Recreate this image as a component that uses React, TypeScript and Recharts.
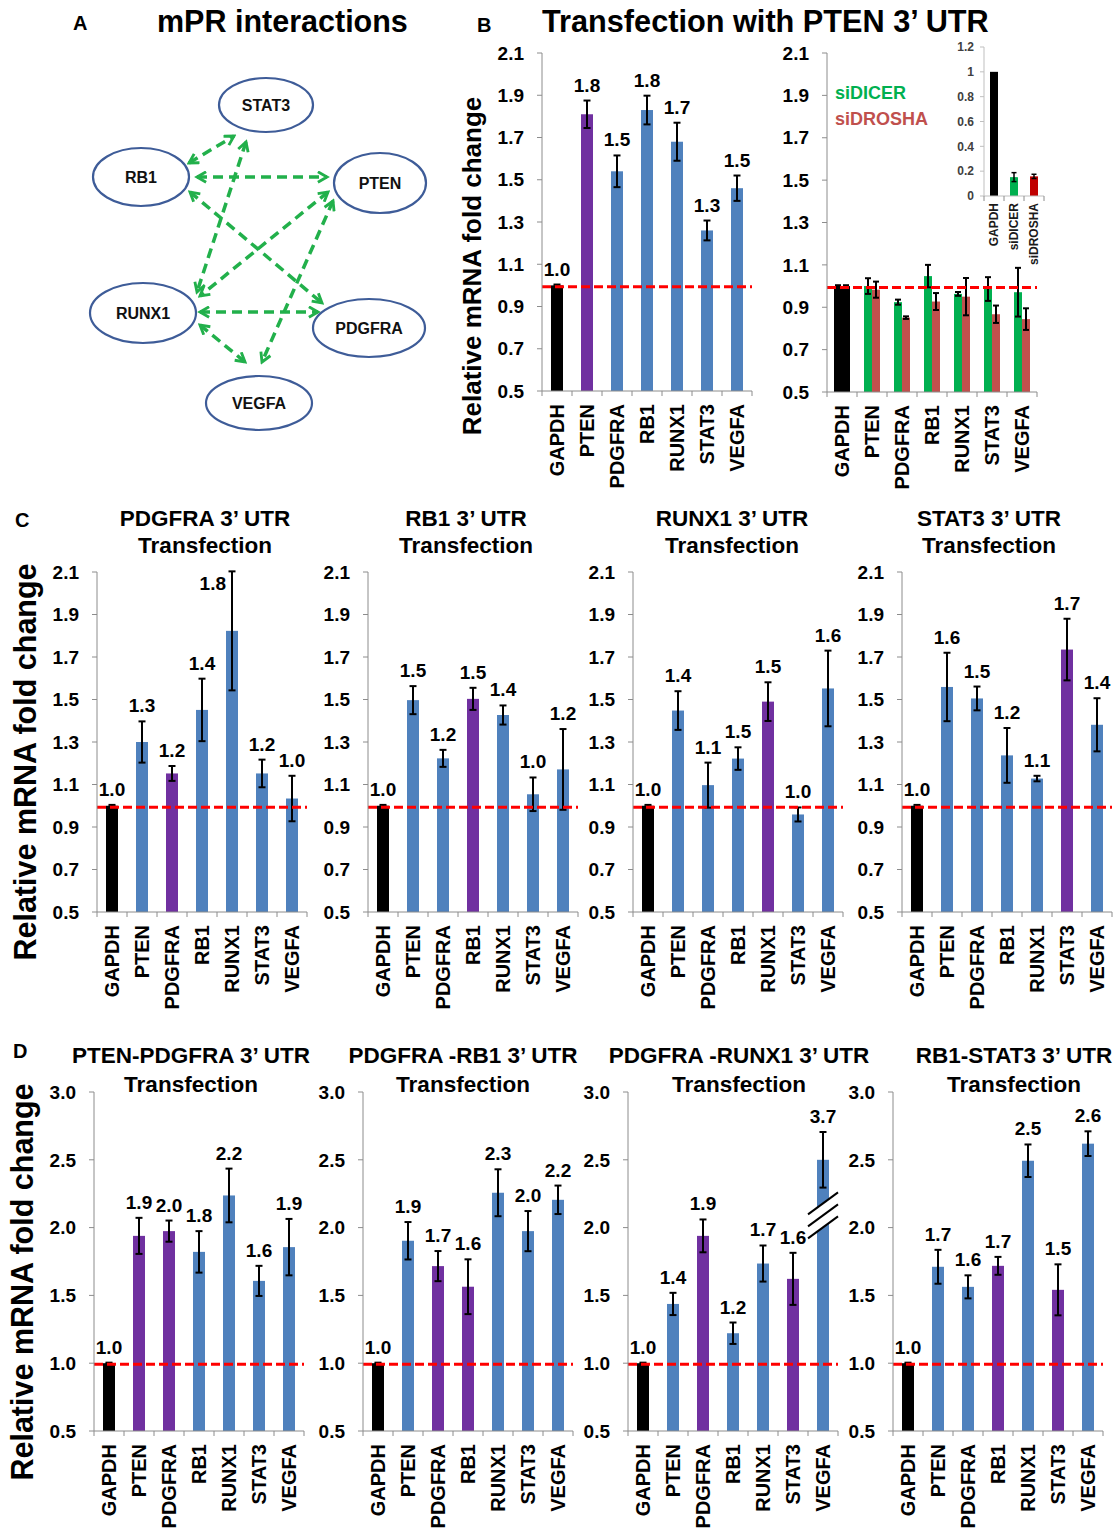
import React from 'react'
import { BarChart, Bar, XAxis, YAxis, ErrorBar, ReferenceLine, Cell } from 'recharts'

const GENES = ['GAPDH', 'PTEN', 'PDGFRA', 'RB1', 'RUNX1', 'STAT3', 'VEGFA']

// B: transfection with PTEN 3' UTR
const PTEN_VALUES = [1.0, 1.81, 1.54, 1.83, 1.68, 1.26, 1.46]
const PTEN_ERRORS = [0.004, 0.065, 0.075, 0.068, 0.09, 0.047, 0.06]
const PTEN_LABELS = ['1.0', '1.8', '1.5', '1.8', '1.7', '1.3', '1.5']

// B: PTEN 3' UTR with siDICER / siDROSHA
const SIDICER_VALUES = [1.0, 1.0, 0.924, 1.047, 0.963, 0.986, 0.971]
const SIDICER_ERRORS = [0.004, 0.037, 0.012, 0.053, 0.009, 0.056, 0.115]
const SIDROSHA_VALUES = [1.0, 0.983, 0.851, 0.927, 0.95, 0.867, 0.844]
const SIDROSHA_ERRORS = [0.004, 0.038, 0.006, 0.04, 0.088, 0.041, 0.051]

// B inset: knockdown efficiency
const INSET_CATEGORIES = ['GAPDH', 'siDICER', 'siDROSHA']
const INSET_VALUES = [1.0, 0.152, 0.158]
const INSET_ERRORS = [0, 0.036, 0.017]
const INSET_TICKS = [0, 0.2, 0.4, 0.6, 0.8, 1, 1.2]

// C: single 3' UTR transfections
const C_PDGFRA_VALUES = [1.0, 1.3, 1.152, 1.451, 1.823, 1.152, 1.034]
const C_PDGFRA_ERRORS = [0.004, 0.097, 0.035, 0.147, 0.28, 0.065, 0.107]
const C_PDGFRA_LABELS = ['1.0', '1.3', '1.2', '1.4', '1.8', '1.2', '1.0']

const C_RB1_VALUES = [1.0, 1.497, 1.223, 1.503, 1.427, 1.054, 1.171]
const C_RB1_ERRORS = [0.004, 0.066, 0.04, 0.052, 0.045, 0.079, 0.19]
const C_RB1_LABELS = ['1.0', '1.5', '1.2', '1.5', '1.4', '1.0', '1.2']

const C_RUNX1_VALUES = [1.0, 1.448, 1.097, 1.222, 1.49, 0.959, 1.552]
const C_RUNX1_ERRORS = [0.004, 0.091, 0.106, 0.053, 0.091, 0.033, 0.178]
const C_RUNX1_LABELS = ['1.0', '1.4', '1.1', '1.5', '1.5', '1.0', '1.6']

const C_STAT3_VALUES = [1.0, 1.559, 1.505, 1.237, 1.128, 1.735, 1.381]
const C_STAT3_ERRORS = [0.004, 0.161, 0.056, 0.129, 0.013, 0.145, 0.125]
const C_STAT3_LABELS = ['1.0', '1.6', '1.5', '1.2', '1.1', '1.7', '1.4']

// D: double 3' UTR transfections
const D_PTEN_PDGFRA_VALUES = [1.0, 1.939, 1.974, 1.821, 2.237, 1.607, 1.856]
const D_PTEN_PDGFRA_ERRORS = [0.004, 0.133, 0.078, 0.153, 0.198, 0.111, 0.208]
const D_PTEN_PDGFRA_LABELS = ['1.0', '1.9', '2.0', '1.8', '2.2', '1.6', '1.9']

const D_PDGFRA_RB1_VALUES = [1.0, 1.903, 1.716, 1.564, 2.257, 1.974, 2.205]
const D_PDGFRA_RB1_ERRORS = [0.004, 0.138, 0.111, 0.202, 0.173, 0.148, 0.105]
const D_PDGFRA_RB1_LABELS = ['1.0', '1.9', '1.7', '1.6', '2.3', '2.0', '2.2']

// VEGFA is 3.7 but drawn on a broken axis, capped at 2.5
const D_PDGFRA_RUNX1_VALUES = [1.0, 1.437, 1.939, 1.221, 1.735, 1.622, 2.5]
const D_PDGFRA_RUNX1_ERRORS = [0.004, 0.082, 0.121, 0.079, 0.133, 0.192, 0.205]
const D_PDGFRA_RUNX1_LABELS = ['1.0', '1.4', '1.9', '1.2', '1.7', '1.6', '3.7']

const D_RB1_STAT3_VALUES = [1.0, 1.711, 1.563, 1.718, 2.493, 1.541, 2.619]
const D_RB1_STAT3_ERRORS = [0.004, 0.125, 0.085, 0.066, 0.12, 0.188, 0.091]
const D_RB1_STAT3_LABELS = ['1.0', '1.7', '1.6', '1.7', '2.5', '1.5', '2.6']

const TICKS_21 = [0.5, 0.7, 0.9, 1.1, 1.3, 1.5, 1.7, 1.9, 2.1]
const TICKS_30 = [0.5, 1.0, 1.5, 2.0, 2.5, 3.0]

// A: interaction network
const NODES = [
  { name: 'STAT3', cx: 266, cy: 105, rx: 47, ry: 27 },
  { name: 'RB1', cx: 141, cy: 177, rx: 48, ry: 29 },
  { name: 'PTEN', cx: 380, cy: 183, rx: 46, ry: 30 },
  { name: 'RUNX1', cx: 143, cy: 313, rx: 53, ry: 30 },
  { name: 'PDGFRA', cx: 369, cy: 328, rx: 56, ry: 29 },
  { name: 'VEGFA', cx: 259, cy: 403, rx: 53, ry: 27 },
]
const EDGES = [
  [189, 163, 234, 136],
  [197, 177, 327, 177],
  [190, 192, 322, 303],
  [246, 142, 197, 292],
  [328, 192, 200, 296],
  [333, 201, 262, 362],
  [200, 312, 318, 312],
  [200, 325, 245, 362],
]

const FONT = '"Liberation Sans", Arial, Helvetica, sans-serif'
const AXIS_GRAY = '#8c8c8c'
const BLUE = '#4F81BD'
const PURPLE = '#7030A0'
const GREEN = '#00B050'
const BRICK = '#C0504D'
const DARK_RED = '#C00000'
const RED = '#FF0000'
const ARROW_GREEN = '#22B04B'
const REF_LEVEL = 0.993
const BREAK_LEVEL = 2.09

const Y_W = 70
const PAD_T = 30
const PAD_R = 12
const X_H = 110

function geneTick(step: number, count: number, fontSize: number, gap: number, color: string) {
  return (props: any) => {
    const { x, y, payload, index } = props
    return (
      <g>
        <line x1={x - step / 2} y1={y} x2={x - step / 2} y2={y + 5} stroke={AXIS_GRAY} />
        {index === count - 1 && (
          <line x1={x + step / 2} y1={y} x2={x + step / 2} y2={y + 5} stroke={AXIS_GRAY} />
        )}
        <text
          transform={`translate(${x},${y + gap}) rotate(-90)`}
          textAnchor='end'
          dominantBaseline='central'
          fontSize={fontSize}
          fontWeight={700}
          fontFamily={FONT}
          fill={color}
        >
          {payload.value}
        </text>
      </g>
    )
  }
}

interface GeneChartProps {
  axisX: number
  top: number
  bottom: number
  width: number
  domain: [number, number]
  ticks: number[]
  values: number[]
  errors: number[]
  labels: string[]
  transfected: string[]
  broken?: string
}

function GeneChart(p: GeneChartProps) {
  const plotH = p.bottom - p.top
  const ppu = plotH / (p.domain[1] - p.domain[0])
  const step = p.width / GENES.length
  const rows = GENES.map((gene, i) => ({
    gene,
    value: p.values[i],
    err: p.errors[i],
    label: p.labels[i],
  }))
  const fillOf = (g: string) =>
    g === 'GAPDH' ? '#000' : p.transfected.includes(g) ? PURPLE : BLUE

  const shape = (s: any) => {
    const { x, y, width, height, payload } = s
    const cx = x + width / 2
    const errTop = y - payload.err * ppu
    // label would hit the title: put it beside the error bar instead
    const crowded = errTop - PAD_T < 20
    let brk = null
    if (payload.gene === p.broken) {
      const yb = PAD_T + (p.domain[1] - BREAK_LEVEL) * ppu
      brk = (
        <g>
          <polygon
            points={`${cx - 7},${yb - 12 + 5.2} ${cx + 7},${yb - 12 - 5.2} ${cx + 7},${yb + 12 - 5.2} ${cx - 7},${yb + 12 + 5.2}`}
            fill='#fff'
          />
          {[-1, 0, 1].map((k) => (
            <line
              key={k}
              x1={cx - 15}
              y1={yb + k * 12 + 11}
              x2={cx + 15}
              y2={yb + k * 12 - 11}
              stroke='#000'
              strokeWidth={2}
            />
          ))}
        </g>
      )
    }
    return (
      <g>
        <rect x={x} y={y} width={width} height={height} fill={fillOf(payload.gene)} />
        {brk}
        <text
          x={crowded ? cx - 6 : cx}
          y={crowded ? errTop + 19 : errTop - 9}
          textAnchor={crowded ? 'end' : 'middle'}
          fontSize={19}
          fontWeight={700}
          fontFamily={FONT}
          fill='#000'
        >
          {payload.label}
        </text>
      </g>
    )
  }

  return (
    <div style={{ position: 'absolute', left: p.axisX - Y_W, top: p.top - PAD_T }}>
      <BarChart
        width={Y_W + p.width + PAD_R}
        height={PAD_T + plotH + X_H}
        data={rows}
        margin={{ top: PAD_T, right: PAD_R, bottom: 0, left: 0 }}
        barSize={12}
      >
        <XAxis
          dataKey='gene'
          interval={0}
          tickSize={0}
          tickMargin={0}
          tickLine={false}
          axisLine={{ stroke: AXIS_GRAY }}
          height={X_H}
          tick={geneTick(step, GENES.length, 20, 13, '#000')}
        />
        <YAxis
          type='number'
          domain={p.domain}
          ticks={p.ticks}
          allowDataOverflow
          width={Y_W}
          tickFormatter={(v: number) => v.toFixed(1)}
          tickSize={5}
          tickMargin={13}
          tickLine={{ stroke: AXIS_GRAY }}
          axisLine={{ stroke: AXIS_GRAY }}
          tick={{ fontSize: 19, fontWeight: 700, fill: '#000', fontFamily: FONT }}
        />
        <Bar dataKey='value' isAnimationActive={false} shape={shape}>
          <ErrorBar dataKey='err' width={3.5} strokeWidth={2} stroke='#000' />
        </Bar>
        <ReferenceLine y={REF_LEVEL} stroke={RED} strokeWidth={3} strokeDasharray='9 4' />
      </BarChart>
    </div>
  )
}

function KnockdownChart() {
  const top = 53
  const bottom = 392
  const width = 210
  const plotH = bottom - top
  const rows = GENES.map((gene, i) => ({
    gene,
    dicer: SIDICER_VALUES[i],
    dicerErr: SIDICER_ERRORS[i],
    drosha: SIDROSHA_VALUES[i],
    droshaErr: SIDROSHA_ERRORS[i],
  }))
  return (
    <div style={{ position: 'absolute', left: 827 - Y_W, top: top - PAD_T }}>
      <BarChart
        width={Y_W + width + PAD_R}
        height={PAD_T + plotH + X_H}
        data={rows}
        margin={{ top: PAD_T, right: PAD_R, bottom: 0, left: 0 }}
        barSize={8}
        barGap={0}
      >
        <XAxis
          dataKey='gene'
          interval={0}
          tickSize={0}
          tickMargin={0}
          tickLine={false}
          axisLine={{ stroke: AXIS_GRAY }}
          height={X_H}
          tick={geneTick(width / GENES.length, GENES.length, 20, 13, '#000')}
        />
        <YAxis
          type='number'
          domain={[0.5, 2.1]}
          ticks={TICKS_21}
          allowDataOverflow
          width={Y_W}
          tickFormatter={(v: number) => v.toFixed(1)}
          tickSize={5}
          tickMargin={13}
          tickLine={{ stroke: AXIS_GRAY }}
          axisLine={{ stroke: AXIS_GRAY }}
          tick={{ fontSize: 19, fontWeight: 700, fill: '#000', fontFamily: FONT }}
        />
        <Bar dataKey='dicer' isAnimationActive={false}>
          {rows.map((r) => (
            <Cell key={r.gene} fill={r.gene === 'GAPDH' ? '#000' : GREEN} />
          ))}
          <ErrorBar dataKey='dicerErr' width={3} strokeWidth={2} stroke='#000' />
        </Bar>
        <Bar dataKey='drosha' isAnimationActive={false}>
          {rows.map((r) => (
            <Cell key={r.gene} fill={r.gene === 'GAPDH' ? '#000' : BRICK} />
          ))}
          <ErrorBar dataKey='droshaErr' width={3} strokeWidth={2} stroke='#000' />
        </Bar>
        <ReferenceLine y={REF_LEVEL} stroke={RED} strokeWidth={3} strokeDasharray='9 4' />
      </BarChart>
    </div>
  )
}

function InsetChart() {
  const top = 47
  const bottom = 196
  const width = 60
  const yw = 40
  const pt = 10
  const rows = INSET_CATEGORIES.map((name, i) => ({
    name,
    value: INSET_VALUES[i],
    err: INSET_ERRORS[i],
  }))
  const colors = ['#000', GREEN, DARK_RED]
  return (
    <div style={{ position: 'absolute', left: 984 - yw, top: top - pt }}>
      <BarChart
        width={yw + width + 6}
        height={pt + (bottom - top) + 85}
        data={rows}
        margin={{ top: pt, right: 6, bottom: 0, left: 0 }}
        barSize={8}
      >
        <XAxis
          dataKey='name'
          interval={0}
          tickSize={0}
          tickMargin={0}
          tickLine={false}
          axisLine={{ stroke: '#bfbfbf' }}
          height={85}
          tick={geneTick(width / 3, 3, 12, 7, '#1a1a1a')}
        />
        <YAxis
          type='number'
          domain={[0, 1.2]}
          ticks={INSET_TICKS}
          allowDataOverflow
          width={yw}
          tickSize={4}
          tickMargin={6}
          tickLine={{ stroke: '#bfbfbf' }}
          axisLine={{ stroke: '#bfbfbf' }}
          tick={{ fontSize: 12, fontWeight: 700, fill: '#404040', fontFamily: FONT }}
        />
        <Bar dataKey='value' isAnimationActive={false}>
          {rows.map((r, i) => (
            <Cell key={r.name} fill={colors[i]} />
          ))}
          <ErrorBar dataKey='err' width={2.5} strokeWidth={1.5} stroke='#000' />
        </Bar>
      </BarChart>
    </div>
  )
}

const C_PANELS = [
  { axisX: 97, titleX: 205, name: 'PDGFRA 3’ UTR', values: C_PDGFRA_VALUES, errors: C_PDGFRA_ERRORS, labels: C_PDGFRA_LABELS, transfected: ['PDGFRA'] },
  { axisX: 368, titleX: 466, name: 'RB1 3’ UTR', values: C_RB1_VALUES, errors: C_RB1_ERRORS, labels: C_RB1_LABELS, transfected: ['RB1'] },
  { axisX: 633, titleX: 732, name: 'RUNX1 3’ UTR', values: C_RUNX1_VALUES, errors: C_RUNX1_ERRORS, labels: C_RUNX1_LABELS, transfected: ['RUNX1'] },
  { axisX: 902, titleX: 989, name: 'STAT3 3’ UTR', values: C_STAT3_VALUES, errors: C_STAT3_ERRORS, labels: C_STAT3_LABELS, transfected: ['STAT3'] },
]

const D_PANELS = [
  { axisX: 94, titleX: 191, name: 'PTEN-PDGFRA 3’ UTR', values: D_PTEN_PDGFRA_VALUES, errors: D_PTEN_PDGFRA_ERRORS, labels: D_PTEN_PDGFRA_LABELS, transfected: ['PTEN', 'PDGFRA'] },
  { axisX: 363, titleX: 463, name: 'PDGFRA -RB1 3’ UTR', values: D_PDGFRA_RB1_VALUES, errors: D_PDGFRA_RB1_ERRORS, labels: D_PDGFRA_RB1_LABELS, transfected: ['PDGFRA', 'RB1'] },
  { axisX: 628, titleX: 739, name: 'PDGFRA -RUNX1 3’ UTR', values: D_PDGFRA_RUNX1_VALUES, errors: D_PDGFRA_RUNX1_ERRORS, labels: D_PDGFRA_RUNX1_LABELS, transfected: ['PDGFRA', 'STAT3'], broken: 'VEGFA' },
  { axisX: 893, titleX: 1014, name: 'RB1-STAT3 3’ UTR', values: D_RB1_STAT3_VALUES, errors: D_RB1_STAT3_ERRORS, labels: D_RB1_STAT3_LABELS, transfected: ['RB1', 'STAT3'] },
]

const bold = { fontFamily: FONT, fontWeight: 700, fill: '#000' } as const

function Overlay() {
  return (
    <svg width={1117} height={1529} style={{ position: 'absolute', left: 0, top: 0 }}>
      <defs>
        <marker
          id='chev'
          viewBox='0 0 10 10'
          refX={8}
          refY={5}
          markerWidth={13}
          markerHeight={13}
          markerUnits='userSpaceOnUse'
          orient='auto-start-reverse'
        >
          <path d='M1,1 L8,5 L1,9' fill='none' stroke={ARROW_GREEN} strokeWidth={2.2} />
        </marker>
      </defs>

      {/* panel letters and main titles */}
      <text x={73} y={30} fontSize={20} {...bold}>A</text>
      <text x={157} y={32} fontSize={30.5} {...bold}>mPR interactions</text>
      <text x={477} y={32} fontSize={20} {...bold}>B</text>
      <text x={542} y={32} fontSize={30.7} {...bold}>Transfection with PTEN 3’ UTR</text>
      <text x={15} y={527} fontSize={20} {...bold}>C</text>
      <text x={13} y={1058} fontSize={20} {...bold}>D</text>

      {/* network */}
      {EDGES.map(([x1, y1, x2, y2], i) => (
        <line
          key={i}
          x1={x1}
          y1={y1}
          x2={x2}
          y2={y2}
          stroke={ARROW_GREEN}
          strokeWidth={3.5}
          strokeDasharray='10 6'
          markerStart='url(#chev)'
          markerEnd='url(#chev)'
        />
      ))}
      {NODES.map((n) => (
        <g key={n.name}>
          <ellipse cx={n.cx} cy={n.cy} rx={n.rx} ry={n.ry} fill='#fff' stroke='#3E5C98' strokeWidth={2.2} />
          <text x={n.cx} y={n.cy} textAnchor='middle' dominantBaseline='central' fontSize={16} {...bold} fill='#111'>
            {n.name}
          </text>
        </g>
      ))}

      {/* y axis titles */}
      <text transform='translate(472,266) rotate(-90)' textAnchor='middle' dominantBaseline='central' fontSize={26} {...bold}>
        Relative mRNA fold change
      </text>
      <text transform='translate(25,762) rotate(-90)' textAnchor='middle' dominantBaseline='central' fontSize={30.5} {...bold}>
        Relative mRNA fold change
      </text>
      <text transform='translate(22,1282) rotate(-90)' textAnchor='middle' dominantBaseline='central' fontSize={30.5} {...bold}>
        Relative mRNA fold change
      </text>

      {/* legend in knockdown plot */}
      <text x={835} y={99} fontSize={18} {...bold} fill={GREEN}>siDICER</text>
      <text x={835} y={125} fontSize={18} {...bold} fill={BRICK}>siDROSHA</text>

      {/* panel titles */}
      {C_PANELS.map((c) => (
        <g key={c.name}>
          <text x={c.titleX} y={526} textAnchor='middle' fontSize={22.5} {...bold}>{c.name}</text>
          <text x={c.titleX} y={553} textAnchor='middle' fontSize={22.5} {...bold}>Transfection</text>
        </g>
      ))}
      {D_PANELS.map((d) => (
        <g key={d.name}>
          <text x={d.titleX} y={1063} textAnchor='middle' fontSize={22.5} {...bold}>{d.name}</text>
          <text x={d.titleX} y={1092} textAnchor='middle' fontSize={22.5} {...bold}>Transfection</text>
        </g>
      ))}
    </svg>
  )
}

export default function App() {
  return (
    <div
      style={{
        position: 'absolute',
        left: 0,
        top: 0,
        width: 1117,
        height: 1529,
        background: '#fff',
        overflow: 'hidden',
      }}
    >
      <Overlay />
      <GeneChart
        axisX={542}
        top={53}
        bottom={391}
        width={210}
        domain={[0.5, 2.1]}
        ticks={TICKS_21}
        values={PTEN_VALUES}
        errors={PTEN_ERRORS}
        labels={PTEN_LABELS}
        transfected={['PTEN']}
      />
      <KnockdownChart />
      <InsetChart />
      {C_PANELS.map((c) => (
        <GeneChart
          key={c.name}
          axisX={c.axisX}
          top={572}
          bottom={912}
          width={210}
          domain={[0.5, 2.1]}
          ticks={TICKS_21}
          values={c.values}
          errors={c.errors}
          labels={c.labels}
          transfected={c.transfected}
        />
      ))}
      {D_PANELS.map((d) => (
        <GeneChart
          key={d.name}
          axisX={d.axisX}
          top={1092}
          bottom={1431}
          width={210}
          domain={[0.5, 3.0]}
          ticks={TICKS_30}
          values={d.values}
          errors={d.errors}
          labels={d.labels}
          transfected={d.transfected}
          broken={d.broken}
        />
      ))}
    </div>
  )
}
